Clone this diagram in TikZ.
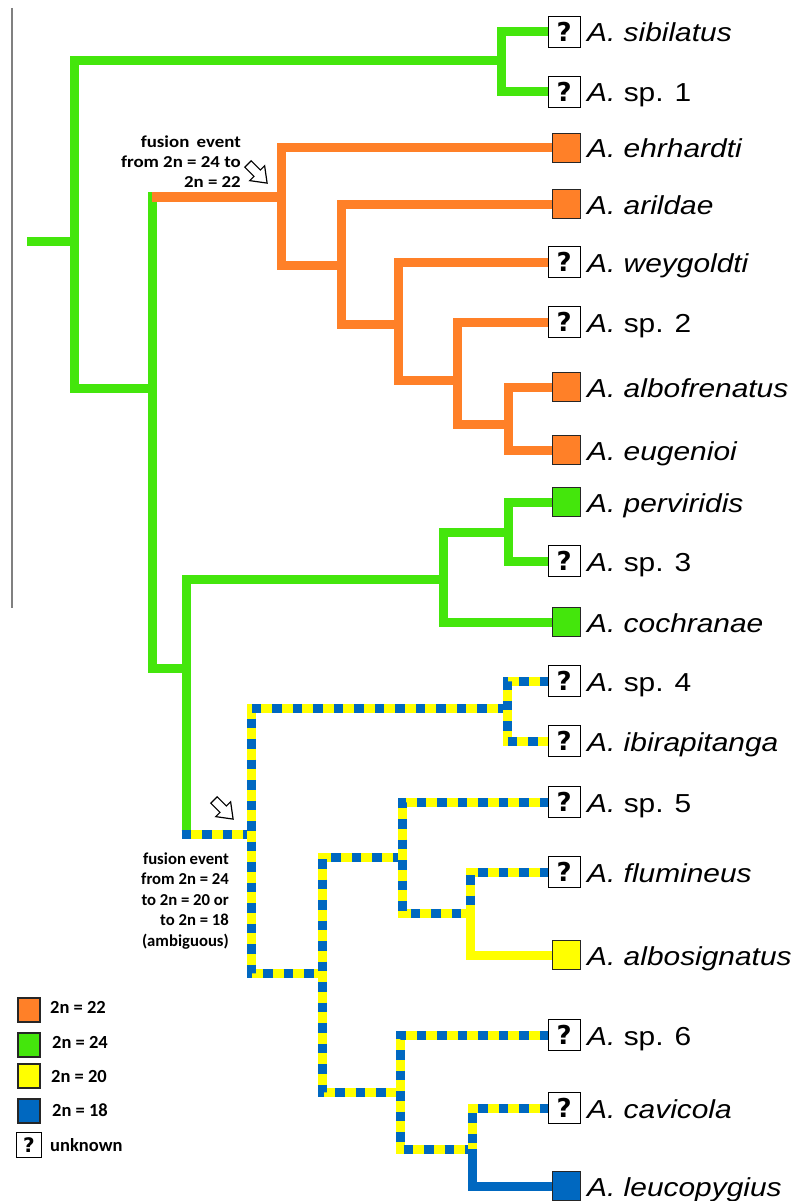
\documentclass[tikz,border=0pt]{standalone}
\usepackage{fontspec}
\newfontfamily\tipfont[FakeStretch=1.15]{Liberation Sans}
\newfontfamily\annfont{Carlito}
\newfontfamily\annwide[FakeStretch=1.13]{Carlito}
\newfontfamily\qfont{DejaVu Sans}
\definecolor{orng}{RGB}{255,128,40}
\definecolor{grn}{RGB}{68,230,12}
\definecolor{yel}{RGB}{255,255,0}
\definecolor{blu}{RGB}{0,104,192}
\tikzset{
  br/.style={line width=9pt},
  ob/.style={br, draw=orng},
  gb/.style={br, draw=grn},
  yb/.style={br, draw=yel},
  bb/.style={br, draw=blu},
  db/.style={br, draw=yel, postaction={draw=blu, line width=9pt, dash pattern=on 9.5pt off 11pt}},
  qbox/.style={draw=black, line width=1.5pt, fill=white, minimum width=32pt, minimum height=31pt, inner sep=0pt, font=\qfont\bfseries\fontsize{26}{26}\selectfont},
  cbox/.style={draw=black!85, line width=1.3pt, minimum width=28pt, minimum height=29pt, inner sep=0pt, fill=#1},
  tiplabel/.style={anchor=base west, inner sep=0pt, font=\tipfont\fontsize{26}{30}\selectfont},
  ann/.style={align=right, anchor=east, inner sep=0pt, font=\annfont\bfseries\fontsize{16.7}{20.5}\selectfont},
  annw/.style={align=right, anchor=east, inner sep=0pt, font=\annwide\bfseries\fontsize{16.7}{20}\selectfont},
  lbox/.style={draw=black!85, line width=1.3pt, minimum width=22pt, minimum height=24pt, inner sep=0pt, fill=#1},
  lqbox/.style={draw=black, line width=1.5pt, fill=white, minimum size=25pt, inner sep=0pt, font=\qfont\bfseries\fontsize{20}{20}\selectfont},
  legtext/.style={anchor=west, inner sep=0pt, font=\annfont\bfseries\fontsize{18.5}{20}\selectfont},
  fusarrow/.pic={\draw[line width=1.2pt, fill=white, line join=miter] (0,-4.5) -- (13,-4.5) -- (13,-10.5) -- (27,0) -- (13,10.5) -- (13,4.5) -- (0,4.5) -- cycle;}
}
\newcommand\qtip[3]{\node[qbox, anchor=east] (#1) at (581,#2) {?};
  \node[tiplabel] (#1l) at (587,{#2+10}) {#3};}
\newcommand\ctip[4]{\node[cbox=#4, anchor=east] (#1) at (581,#2) {};
  \node[tiplabel] (#1l) at (587,{#2+10}) {#3};}
\begin{document}
\begin{tikzpicture}[x=1pt,y=-1pt]
\useasboundingbox (0,0) rectangle (798,1201);
\clip (0,0) rectangle (798,1201);
% thin gray line
\draw[gray, line width=1.2pt] (12,8) -- (12,608);

% internal node coordinates
\coordinate (root) at (27,241);
\coordinate (n74) at (74,241);
\coordinate (n501) at (501,61);
\coordinate (n152) at (152,388);
\coordinate (n152top) at (152,197);
\coordinate (n281) at (281,197);
\coordinate (n341) at (341,265);
\coordinate (n398) at (398,324);
\coordinate (n457) at (457,380);
\coordinate (n508) at (508,424);
\coordinate (n186) at (186,668);
\coordinate (n186b) at (186,834);
\coordinate (n186c) at (181.5,834);
\coordinate (n443) at (443,579);
\coordinate (n508g) at (508,532);
\coordinate (n251) at (251,834);
\coordinate (n507) at (507,708);
\coordinate (n322) at (322,973);
\coordinate (n402) at (402,857);
\coordinate (n470) at (470,913);
\coordinate (n400) at (400,1092);
\coordinate (n472) at (472,1149);

% tip anchor coordinates (box west sides)
\coordinate (w1) at (549,32);
\coordinate (w2) at (549,92);
\coordinate (w3) at (553,148);
\coordinate (w4) at (553,204);
\coordinate (w5) at (549,262);
\coordinate (w6) at (549,322);
\coordinate (w7) at (553,387);
\coordinate (w8) at (553,450);
\coordinate (w9) at (553,502);
\coordinate (w10) at (549,561);
\coordinate (w11) at (553,622);
\coordinate (w12) at (549,681);
\coordinate (w13) at (549,741);
\coordinate (w14) at (549,802);
\coordinate (w15) at (549,872);
\coordinate (w16) at (553,955);
\coordinate (w17) at (549,1035);
\coordinate (w18) at (549,1108);
\coordinate (w19) at (553,1186);

% green backbone
\draw[gb] (root) -- (n74);
\draw[gb] (n501) -| (n74) |- (n152);
\draw[gb] (w1) -| (n501) |- (w2);
\draw[gb, line cap=rect] (n152top) -- (n152) |- (n186);
% orange clade
\draw[ob] (n281) -- (n152top);
\draw[ob] (w3) -| (n281) |- (n341);
\draw[ob] (w4) -| (n341) |- (n398);
\draw[ob] (w5) -| (n398) |- (n457);
\draw[ob] (w6) -| (n457) |- (n508);
\draw[ob] (w7) -| (n508) |- (w8);
% green clade
\draw[gb] (n443) -| (n186) |- (n186b);
\draw[gb] (n508g) -| (n443) |- (w11);
\draw[gb] (w9) -| (n508g) |- (w10);
% dashed clade
\draw[db] (n186c) -- (n251);
\draw[db] (n507) -| (n251) |- (n322);
\draw[db] (w12) -| (n507) |- (w13);
\draw[db] (n402) -| (n322) |- (n400);
\draw[db] (w14) -| (n402) |- (n470);
\draw[db] (w15) -| (n470);
\draw[yb] (n470) |- (w16);
\draw[db] (w17) -| (n400) |- (n472);
\draw[db] (w18) -| (n472);
\draw[bb] (n472) |- (w19);

% tips
\qtip{t1}{32}{\itshape A. sibilatus}
\qtip{t2}{92}{\textit{A.} sp. 1}
\ctip{t3}{148}{\itshape A. ehrhardti}{orng}
\ctip{t4}{204}{\itshape A. arildae}{orng}
\qtip{t5}{262}{\itshape A. weygoldti}
\qtip{t6}{322}{\textit{A.} sp. 2}
\ctip{t7}{387}{\itshape A. albofrenatus}{orng}
\ctip{t8}{450}{\itshape A. eugenioi}{orng}
\ctip{t9}{502}{\itshape A. perviridis}{grn}
\qtip{t10}{561}{\textit{A.} sp. 3}
\ctip{t11}{622}{\itshape A. cochranae}{grn}
\qtip{t12}{681}{\textit{A.} sp. 4}
\qtip{t13}{741}{\itshape A. ibirapitanga}
\qtip{t14}{802}{\textit{A.} sp. 5}
\qtip{t15}{872}{\itshape A. flumineus}
\ctip{t16}{955}{\itshape A. albosignatus}{yel}
\qtip{t17}{1035}{\textit{A.} sp. 6}
\qtip{t18}{1108}{\itshape A. cavicola}
\ctip{t19}{1186}{\itshape A. leucopygius}{blu}

% fusion annotations
\node[annw] (f1) at (241,162) {fusion\hspace{3pt} event\\from 2n = 24 to\\2n = 22};
\pic[rotate=-45] at (248,164) {fusarrow};
\node[ann] (f2) at (229,901) {fusion event\\from 2n = 24\\to 2n = 20 or\\to 2n = 18\\(ambiguous)};
\pic[rotate=-45] at (214,800) {fusarrow};

% legend
\node[lbox=orng] (lg1) at (29,1010) {};
\node[legtext] (lt1) at (50,1007) {2n = 22};
\node[lbox=grn] (lg2) at (29,1045) {};
\node[legtext] (lt2) at (52,1042) {2n = 24};
\node[lbox=yel] (lg3) at (29,1076) {};
\node[legtext] (lt3) at (51,1076) {2n = 20};
\node[lbox=blu] (lg4) at (29,1111) {};
\node[legtext] (lt4) at (52,1110) {2n = 18};
\node[lqbox] (lg5) at (29,1145) {?};
\node[legtext] (lt5) at (50,1145) {unknown};
\end{tikzpicture}
\end{document}
